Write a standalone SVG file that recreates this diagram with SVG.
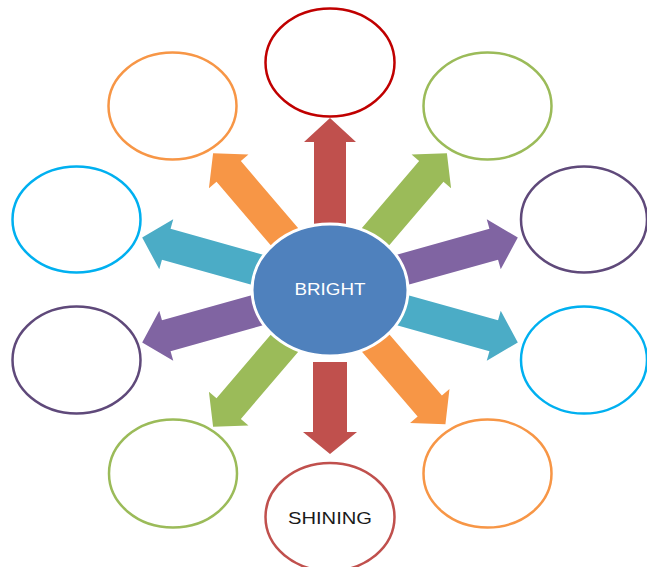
<svg xmlns="http://www.w3.org/2000/svg" width="647" height="567" viewBox="0 0 647 567">
<style>
.ring{fill:#ffffff;stroke-width:2.5}
.lbl{font-family:"Liberation Sans",Arial,sans-serif;font-size:16.5px;text-anchor:middle}
.red{fill:#C0504D}.org{fill:#F79646}.grn{fill:#9BBB59}.tea{fill:#4BACC6}.pur{fill:#8064A2}
</style>
<rect width="647" height="567" fill="#ffffff"/>
<g id="connectors">
<path class="red" transform="translate(330,290) rotate(-90)" d="M60,-16 L148,-16 L148,-26 L172,0 L148,26 L148,16 L60,16 Z"/>
<path class="red" transform="translate(330,290) rotate(90)" d="M72,-17 L142,-17 L142,-27 L164,0 L142,27 L142,17 L72,17 Z"/>
<path class="org" transform="translate(330,290) rotate(-130.5)" d="M60,-16 L156,-16 L156,-26 L180,0 L156,26 L156,16 L60,16 Z"/>
<path class="grn" transform="translate(330,290) rotate(-49.5)" d="M60,-16 L156,-16 L156,-26 L180,0 L156,26 L156,16 L60,16 Z"/>
<path class="grn" transform="translate(330,290) rotate(130.5)" d="M60,-16 L156,-16 L156,-26 L180,0 L156,26 L156,16 L60,16 Z"/>
<path class="org" transform="translate(330,290) rotate(49.3)" d="M60,-16 L153,-16 L153,-26 L177,0 L153,26 L153,16 L60,16 Z"/>
<path class="tea" transform="translate(330,290) rotate(-164.4)" d="M60,-16 L170,-16 L170,-26 L195,0 L170,26 L170,16 L60,16 Z"/>
<path class="pur" transform="translate(330,290) rotate(-15.6)" d="M60,-16 L170,-16 L170,-26 L195,0 L170,26 L170,16 L60,16 Z"/>
<path class="pur" transform="translate(330,290) rotate(164.4)" d="M60,-16 L170,-16 L170,-26 L195,0 L170,26 L170,16 L60,16 Z"/>
<path class="tea" transform="translate(330,290) rotate(15.6)" d="M60,-16 L170,-16 L170,-26 L195,0 L170,26 L170,16 L60,16 Z"/>
</g>
<g id="center">
<ellipse cx="330" cy="290" rx="78" ry="66" fill="#4F81BD" stroke="#ffffff" stroke-width="3"/>
<text class="lbl" x="330" y="295" fill="#ffffff" textLength="71" lengthAdjust="spacingAndGlyphs">BRIGHT</text>
</g>
<g id="n-top"><ellipse class="ring" cx="330" cy="62.5" rx="64.5" ry="54" stroke="#C00000"/></g>
<g id="n-topleft"><ellipse class="ring" cx="172.5" cy="106" rx="64" ry="53.5" stroke="#F79646"/></g>
<g id="n-topright"><ellipse class="ring" cx="487.5" cy="106" rx="64" ry="53.5" stroke="#9BBB59"/></g>
<g id="n-left1"><ellipse class="ring" cx="76.5" cy="219.5" rx="64" ry="53" stroke="#00B0F0"/></g>
<g id="n-right1"><ellipse class="ring" cx="584" cy="219.5" rx="63" ry="53" stroke="#5F497A"/></g>
<g id="n-left2"><ellipse class="ring" cx="76.5" cy="360" rx="64" ry="53.5" stroke="#5F497A"/></g>
<g id="n-right2"><ellipse class="ring" cx="584" cy="360" rx="63" ry="53.5" stroke="#00B0F0"/></g>
<g id="n-bottomleft"><ellipse class="ring" cx="173" cy="473.5" rx="64" ry="54" stroke="#9BBB59"/></g>
<g id="n-bottomright"><ellipse class="ring" cx="487.5" cy="473.5" rx="64" ry="54" stroke="#F79646"/></g>
<g id="n-bottom">
<ellipse class="ring" cx="330" cy="517" rx="64.5" ry="54" stroke="#C0504D"/>
<text class="lbl" x="330" y="523.5" fill="#1a1a1a" textLength="84" lengthAdjust="spacingAndGlyphs">SHINING</text>
</g>
</svg>
